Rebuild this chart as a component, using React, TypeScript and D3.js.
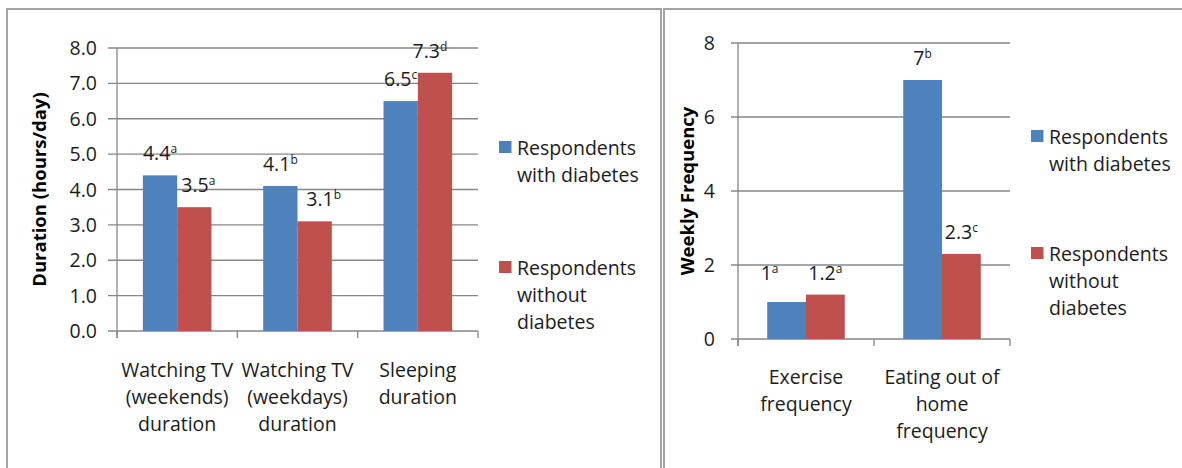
import React from "react";
import * as d3 from "d3";

// ---- Panel A: daily durations ----
const durationCategories: string[][] = [
  ["Watching TV", "(weekends)", "duration"],
  ["Watching TV", "(weekdays)", "duration"],
  ["Sleeping", "duration"],
];
const durationWithDiabetes = [4.4, 4.1, 6.5];
const durationWithoutDiabetes = [3.5, 3.1, 7.3];
const durationWithLetters = ["a", "b", "c"];
const durationWithoutLetters = ["a", "b", "d"];
const durationTicks = [0, 1, 2, 3, 4, 5, 6, 7, 8];

// ---- Panel B: weekly frequencies ----
const frequencyCategories: string[][] = [
  ["Exercise", "frequency"],
  ["Eating out of", "home", "frequency"],
];
const frequencyWithDiabetes = [1, 7];
const frequencyWithoutDiabetes = [1.2, 2.3];
const frequencyWithLetters = ["a", "b"];
const frequencyWithoutLetters = ["a", "c"];
const frequencyTicks = [0, 2, 4, 6, 8];

const seriesNames: string[][] = [
  ["Respondents", "with diabetes"],
  ["Respondents", "without", "diabetes"],
];

const BLUE = "#4F81BD";
const RED = "#C0504D";
const GRID = "#878787";
const FRAME = "#a3a3a3";
const TEXT = "#1c1c1c";
const FONT = "'Open Sans', 'Liberation Sans', sans-serif";
const FS = 19.5;
const LINE_H = 26.8;

type PanelProps = {
  categories: string[][];
  withVals: number[];
  withoutVals: number[];
  withLetters: string[];
  withoutLetters: string[];
  ticks: number[];
  tickFormat: (v: number) => string;
  valueFormat: (v: number) => string;
  title: string;
  x0: number;
  x1: number;
  yBottom: number;
  yTop: number;
  tickLabelGap: number;
  yTickLen: number;
  titleX: number;
  catLabelOffset: number;
  legendX: number;
  legendY: number[];
  labelNudge?: Record<string, [number, number]>;
};

function ValueLabel({
  x,
  y,
  value,
  letter,
}: {
  x: number;
  y: number;
  value: string;
  letter: string;
}) {
  return (
    <text
      x={x}
      y={y + 7}
      textAnchor="middle"
      fontFamily={FONT}
      fontSize={FS}
      fill={TEXT}
    >
      {value}
      <tspan fontSize={12} dy={-7}>
        {letter}
      </tspan>
    </text>
  );
}

function Panel(p: PanelProps) {
  const y = d3
    .scaleLinear()
    .domain([0, d3.max(p.ticks) as number])
    .range([p.yBottom, p.yTop]);
  const idx = p.categories.map((_, i) => String(i));
  const band = d3.scaleBand<string>().domain(idx).range([p.x0, p.x1]).padding(0);
  const bw = band.bandwidth();
  const gap = bw * 0.215;
  const sub = d3
    .scaleBand<string>()
    .domain(["with", "without"])
    .range([gap, bw - gap])
    .padding(0);

  const series = [
    { key: "with", vals: p.withVals, letters: p.withLetters, color: BLUE },
    { key: "without", vals: p.withoutVals, letters: p.withoutLetters, color: RED },
  ];

  return (
    <g>
      {/* gridlines */}
      {p.ticks.map((t) => (
        <line
          key={"g" + t}
          x1={p.x0 - p.yTickLen}
          x2={p.x1}
          y1={y(t)}
          y2={y(t)}
          stroke={GRID}
          strokeWidth={1.3}
        />
      ))}
      {/* vertical axis */}
      <line x1={p.x0} x2={p.x0} y1={y(p.ticks[p.ticks.length - 1])} y2={p.yBottom + 7} stroke={GRID} strokeWidth={1.3} />
      {/* category ticks */}
      {d3.range(p.categories.length + 1).map((i) => {
        const x = p.x0 + i * bw;
        return (
          <line key={"ct" + i} x1={x} x2={x} y1={p.yBottom} y2={p.yBottom + 7} stroke={GRID} strokeWidth={1.3} />
        );
      })}
      {/* tick labels */}
      {p.ticks.map((t) => (
        <text
          key={"tl" + t}
          x={p.x0 - p.tickLabelGap}
          y={y(t) + 7}
          textAnchor="end"
          fontFamily={FONT}
          fontSize={FS}
          fill={TEXT}
        >
          {p.tickFormat(t)}
        </text>
      ))}
      {/* bars */}
      {series.map((s) =>
        s.vals.map((v, i) => {
          const bx = (band(String(i)) as number) + (sub(s.key) as number);
          return (
            <rect
              key={s.key + i}
              x={bx}
              y={y(v)}
              width={sub.bandwidth()}
              height={p.yBottom - y(v)}
              fill={s.color}
            />
          );
        })
      )}
      {/* value labels */}
      {series.map((s) =>
        s.vals.map((v, i) => {
          const cx = (band(String(i)) as number) + (sub(s.key) as number) + sub.bandwidth() / 2;
          const nudge = (p.labelNudge && p.labelNudge[s.key + i]) || [0, 0];
          return (
            <ValueLabel
              key={"vl" + s.key + i}
              x={cx + nudge[0]}
              y={y(v) - 22 + nudge[1]}
              value={p.valueFormat(v)}
              letter={s.letters[i]}
            />
          );
        })
      )}
      {/* category labels */}
      {p.categories.map((lines, i) => {
        const cx = (band(String(i)) as number) + bw / 2;
        return (
          <text key={"cl" + i} textAnchor="middle" fontFamily={FONT} fontSize={FS} fill={TEXT}>
            {lines.map((ln, j) => (
              <tspan key={j} x={cx} y={p.yBottom + p.catLabelOffset + j * LINE_H + 7}>
                {ln}
              </tspan>
            ))}
          </text>
        );
      })}
      {/* axis title */}
      <text
        transform={`translate(${p.titleX},${(p.yTop + p.yBottom) / 2}) rotate(-90)`}
        textAnchor="middle"
        dominantBaseline="central"
        fontFamily={FONT}
        fontSize={18.5}
        fontWeight="bold"
        fill="#000"
      >
        {p.title}
      </text>
      {/* legend */}
      {seriesNames.map((lines, k) => (
        <g key={"lg" + k}>
          <rect x={p.legendX} y={p.legendY[k] - 6} width={12.5} height={12} fill={k === 0 ? BLUE : RED} />
          <text fontFamily={FONT} fontSize={FS} fill={TEXT}>
            {lines.map((ln, j) => (
              <tspan key={j} x={p.legendX + 18} y={p.legendY[k] + 1 + j * LINE_H + 7}>
                {ln}
              </tspan>
            ))}
          </text>
        </g>
      ))}
    </g>
  );
}

export default function App() {
  return (
    <svg
      width={1182}
      height={468}
      style={{ position: "absolute", left: 0, top: 0, background: "#fff" }}
    >
      <rect x={0} y={0} width={1182} height={468} fill="#fff" />
      {/* chart frames */}
      <rect x={7} y={9} width={654} height={500} fill="none" stroke={FRAME} strokeWidth={2} />
      <rect x={664} y={9} width={560} height={500} fill="none" stroke={FRAME} strokeWidth={2} />

      <Panel
        categories={durationCategories}
        withVals={durationWithDiabetes}
        withoutVals={durationWithoutDiabetes}
        withLetters={durationWithLetters}
        withoutLetters={durationWithoutLetters}
        ticks={durationTicks}
        tickFormat={d3.format(".1f")}
        valueFormat={(v) => String(v)}
        title="Duration (hours/day)"
        x0={117}
        x1={478}
        yBottom={331}
        yTop={48}
        tickLabelGap={20}
        yTickLen={9}
        titleX={38}
        catLabelOffset={39}
        legendX={499}
        legendY={[147, 267]}
        labelNudge={{ without0: [4, 0], without1: [9, 0], without2: [-5, 0] }}
      />
      <Panel
        categories={frequencyCategories}
        withVals={frequencyWithDiabetes}
        withoutVals={frequencyWithoutDiabetes}
        withLetters={frequencyWithLetters}
        withoutLetters={frequencyWithoutLetters}
        ticks={frequencyTicks}
        tickFormat={d3.format("d")}
        valueFormat={(v) => String(v)}
        title="Weekly Frequency"
        x0={738}
        x1={1010}
        yBottom={339}
        yTop={43}
        tickLabelGap={23}
        yTickLen={7}
        titleX={686}
        catLabelOffset={38}
        legendX={1031}
        legendY={[136, 253]}
        labelNudge={{ with0: [-17, -7] }}
      />
    </svg>
  );
}
